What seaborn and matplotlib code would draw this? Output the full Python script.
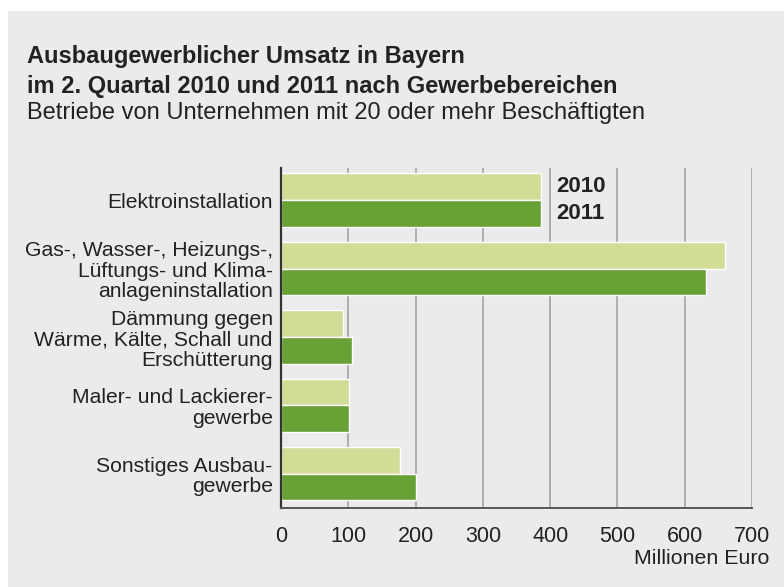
import pandas as pd
import numpy as np
import matplotlib
matplotlib.use('Agg')
import matplotlib.pyplot as plt
from matplotlib.patches import Rectangle
import seaborn as sns

# data (Millionen Euro)
bereiche = ['Elektroinstallation',
            'Gas-, Wasser-, Heizungs-,\nLüftungs- und Klima-\nanlageninstallation',
            'Dämmung gegen\nWärme, Kälte, Schall und\nErschütterung',
            'Maler- und Lackierer-\ngewerbe',
            'Sonstiges Ausbau-\ngewerbe']
umsatz_2010 = [387, 660, 92, 101, 177]
umsatz_2011 = [386, 631, 105, 101, 201]
jahre = ['2010', '2011']
xticks = [0, 100, 200, 300, 400, 500, 600, 700]

bg = '#ebebed'
farben = {'2010': '#d1dd97', '2011': '#68a136'}
txt = '#222222'

df = pd.DataFrame({
    'bereich': bereiche * 2,
    'jahr': ['2010'] * len(bereiche) + ['2011'] * len(bereiche),
    'umsatz': umsatz_2010 + umsatz_2011,
})

sns.set_theme(style='white')
plt.rcParams['font.family'] = ['Liberation Sans', 'DejaVu Sans']

fig = plt.figure(figsize=(7.84, 5.87), dpi=100, facecolor='white')
fig.patches.append(Rectangle((8 / 784, 0), 1, 1 - 11 / 587, transform=fig.transFigure,
                             facecolor=bg, edgecolor='none', zorder=-1))
ax = fig.add_axes([281 / 784, 1 - 508 / 587, (752 - 281) / 784, (508 - 168) / 587])
ax.set_facecolor(bg)

sns.barplot(data=df, y='bereich', x='umsatz', hue='jahr', hue_order=jahre,
            order=bereiche, orient='h', palette=farben, width=0.78,
            edgecolor='white', linewidth=1, saturation=1, ax=ax, legend=False, zorder=3)

ax.set_xlim(0, 700)
ax.set_ylim(4.5, -0.47)
ax.set_xticks(xticks)
ax.set_xticklabels([str(t) for t in xticks], fontsize=15.5, color=txt)
ax.grid(axis='x', color='#a3a3a3', linewidth=1.2, zorder=0)
ax.set_axisbelow(True)
ax.tick_params(axis='x', direction='out', length=8, width=1.2, color='#a3a3a3', pad=5)
ax.xaxis.get_major_ticks()[0].tick1line.set_color('#333333')
ax.tick_params(axis='y', length=0, pad=6, labelsize=15.2, labelcolor=txt)
for lab in ax.get_yticklabels():
    lab.set_horizontalalignment('right')
    lab.set_multialignment('right')
    lab.set_linespacing(1.1)

for s in ['top', 'right']:
    ax.spines[s].set_visible(False)
ax.spines['left'].set_color('#333333')
ax.spines['left'].set_linewidth(1.6)
ax.spines['left'].set_zorder(5)
ax.spines['bottom'].set_color('#555555')
ax.spines['bottom'].set_linewidth(1.4)
ax.spines['bottom'].set_zorder(5)
ax.set_xlabel('')
ax.set_ylabel('')

# year labels next to the first group
ax.text(409, -0.2, '2010', fontsize=16, fontweight='bold', color=txt, va='center')
ax.text(409, 0.2, '2011', fontsize=16, fontweight='bold', color=txt, va='center')

fig.text(769 / 784, 1 - 558 / 587, 'Millionen Euro', ha='right', va='center',
         fontsize=15.4, color=txt)

fig.text(27 / 784, 1 - 57 / 587, 'Ausbaugewerblicher Umsatz in Bayern',
         fontsize=17, fontweight='bold', color=txt, va='center')
fig.text(27 / 784, 1 - 86 / 587, 'im 2. Quartal 2010 und 2011 nach Gewerbebereichen',
         fontsize=17, fontweight='bold', color=txt, va='center')
fig.text(27 / 784, 1 - 113 / 587, 'Betriebe von Unternehmen mit 20 oder mehr Beschäftigten',
         fontsize=17, color=txt, va='center')

fig.savefig('out.png', dpi=100, facecolor='white')
